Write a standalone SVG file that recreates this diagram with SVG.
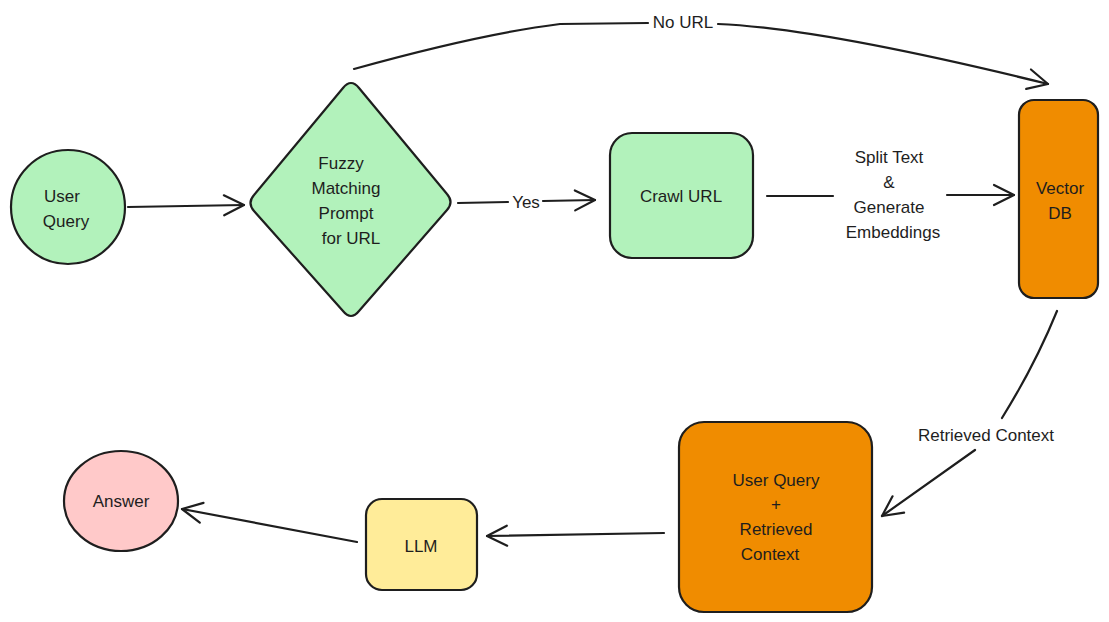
<svg xmlns="http://www.w3.org/2000/svg" width="1109" height="622" viewBox="0 0 1109 622">
<defs>
<marker id="ah" viewBox="-22 -12 26 24" refX="0" refY="0" markerWidth="26" markerHeight="24" markerUnits="userSpaceOnUse" orient="auto">
<path d="M-20,-10 L0,0 L-20,10" fill="none" stroke="#1e1e1e" stroke-width="2.2" stroke-linecap="round" stroke-linejoin="round"/>
</marker>
<style>
.n{stroke:#1e1e1e;stroke-width:2.2}
.g{fill:#b2f2bb}.o{fill:#f08c00}.p{fill:#ffc9c9}.y{fill:#ffec99}
.c{fill:none;stroke:#1e1e1e;stroke-width:2.2;stroke-linecap:round}
text{font-family:"Liberation Sans",Arial,sans-serif;font-size:17px;fill:#1e1e1e;text-anchor:middle;dominant-baseline:central}
</style>
</defs>
<g id="connectors">
<path class="c" d="M128,207 L244,205" marker-end="url(#ah)"/>
<path class="c" d="M458,203 L508,202"/>
<path class="c" d="M543,201 L595,200" marker-end="url(#ah)"/>
<path class="c" d="M767,196 L833,196"/>
<path class="c" d="M947,195 L1014,195" marker-end="url(#ah)"/>
<path class="c" d="M354,69 Q480,34 560,24 L648,23"/>
<path class="c" d="M718,24 Q820,28 1048,84" marker-end="url(#ah)"/>
<path class="c" d="M1057,311 Q1035,365 1002,418"/>
<path class="c" d="M975,450 Q930,482 882,516" marker-end="url(#ah)"/>
<path class="c" d="M664,533 L487,536" marker-end="url(#ah)"/>
<path class="c" d="M357,542 L182,509" marker-end="url(#ah)"/>
<text x="683" y="22">No URL</text>
<text x="526" y="202">Yes</text>
<text x="889" y="157">Split Text</text>
<text x="889" y="182">&amp;</text>
<text x="889" y="207">Generate</text>
<text x="893" y="232">Embeddings</text>
<text x="986" y="435">Retrieved Context</text>
</g>
<g id="user-query">
<circle class="n g" cx="68" cy="207" r="57"/>
<text x="62" y="196">User</text>
<text x="66" y="221">Query</text>
</g>
<g id="fuzzy-matching">
<path class="n g" d="M343,88 Q351,78 359,88 L447,194 Q454,202 447,210 L359,311 Q351,321 343,311 L254,211 Q247,203 254,195 Z"/>
<text x="341" y="163">Fuzzy</text>
<text x="346" y="188">Matching</text>
<text x="346" y="213">Prompt</text>
<text x="351" y="238">for URL</text>
</g>
<g id="crawl-url">
<rect class="n g" x="610" y="133" width="143" height="125" rx="22"/>
<text x="681" y="196">Crawl URL</text>
</g>
<g id="vector-db">
<rect class="n o" x="1019" y="100" width="79" height="198" rx="15"/>
<text x="1060" y="188">Vector</text>
<text x="1060" y="213">DB</text>
</g>
<g id="user-query-context">
<rect class="n o" x="679" y="422" width="193" height="190" rx="25"/>
<text x="776" y="480">User Query</text>
<text x="776" y="504">+</text>
<text x="776" y="529">Retrieved</text>
<text x="770" y="554">Context</text>
</g>
<g id="llm">
<rect class="n y" x="366" y="499" width="111" height="91" rx="16"/>
<text x="421" y="546">LLM</text>
</g>
<g id="answer">
<ellipse class="n p" cx="121" cy="501" rx="57" ry="50"/>
<text x="121" y="501">Answer</text>
</g>
</svg>
